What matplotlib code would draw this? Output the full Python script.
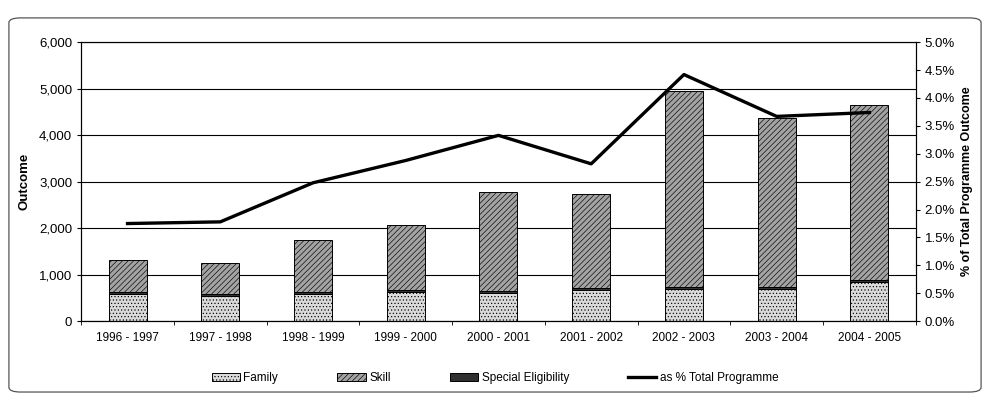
import numpy as np
import matplotlib.pyplot as plt
from matplotlib.patches import FancyBboxPatch
from matplotlib.ticker import FuncFormatter, MultipleLocator

plt.rcParams['font.family'] = ['Liberation Sans', 'DejaVu Sans']
plt.rcParams['hatch.linewidth'] = 0.45

# data
years = ['1996 - 1997', '1997 - 1998', '1998 - 1999', '1999 - 2000', '2000 - 2001',
         '2001 - 2002', '2002 - 2003', '2003 - 2004', '2004 - 2005']
family = [590, 550, 590, 620, 610, 670, 700, 700, 850]
special = [30, 30, 40, 40, 40, 40, 40, 40, 40]
skill = [690, 670, 1110, 1400, 2130, 2020, 4220, 3630, 3760]
pct_total = [1.75, 1.78, 2.48, 2.88, 3.33, 2.82, 4.42, 3.67, 3.74]

x = np.arange(len(years))
w = 0.41

fig = plt.figure(figsize=(9.9, 3.98), dpi=100)
ax = fig.add_axes([0.082, 0.193, 0.843, 0.701])

# rounded chart frame
frame = FancyBboxPatch((0.009, 0.015), 0.982, 0.94, boxstyle="round,pad=0,rounding_size=0.012",
                       transform=fig.transFigure, fill=False, edgecolor='#555555', linewidth=0.9)
fig.patches.append(frame)

ax.set_axisbelow(True)
ax.yaxis.grid(True, color='black', linewidth=0.8)

b1 = ax.bar(x, family, w, color='#dadada', edgecolor='black', linewidth=0.7, hatch='.....', label='Family')
b2 = ax.bar(x, skill, w, bottom=np.array(family) + np.array(special), color='#a3a3a3',
            edgecolor='black', linewidth=0.7, hatch='//////', label='Skill')
b3 = ax.bar(x, special, w, bottom=family, color='#303030', edgecolor='black', linewidth=0.7,
            label='Special Eligibility')

ax.set_xlim(-0.5, 8.5)
ax.set_ylim(0, 6000)
ax.yaxis.set_major_locator(MultipleLocator(1000))
ax.yaxis.set_major_formatter(FuncFormatter(lambda v, p: f'{int(v):,}'))
ax.set_xticks(x)
ax.set_xticklabels(years, fontsize=8.5)
ax.set_xticks(np.arange(-0.5, 9, 1), minor=True)
ax.tick_params(axis='x', which='major', length=0, pad=8)
ax.tick_params(axis='x', which='minor', length=3)
ax.tick_params(axis='y', labelsize=9.5, length=3)
ax.set_ylabel('Outcome', fontsize=9.5, fontweight='bold', labelpad=6)
for s in ax.spines.values():
    s.set_linewidth(0.8)

ax2 = ax.twinx()
ln, = ax2.plot(x, pct_total, color='black', linewidth=2.4, label='as % Total Programme')
ax2.set_ylim(0, 5.0)
ax2.yaxis.set_major_locator(MultipleLocator(0.5))
ax2.yaxis.set_major_formatter(FuncFormatter(lambda v, p: f'{v:.1f}%'))
ax2.tick_params(axis='y', labelsize=9.5, length=3)
ax2.set_ylabel('% of Total Programme Outcome', fontsize=9, fontweight='bold', labelpad=4)

fig.legend([b1, b2, b3, ln], ['Family', 'Skill', 'Special Eligibility', 'as % Total Programme'],
           loc='center', bbox_to_anchor=(0.5, 0.05), ncol=4, frameon=False, fontsize=8.5,
           handlelength=2.4, handletextpad=0.3, columnspacing=5.0)

fig.savefig('out.png', dpi=100)
